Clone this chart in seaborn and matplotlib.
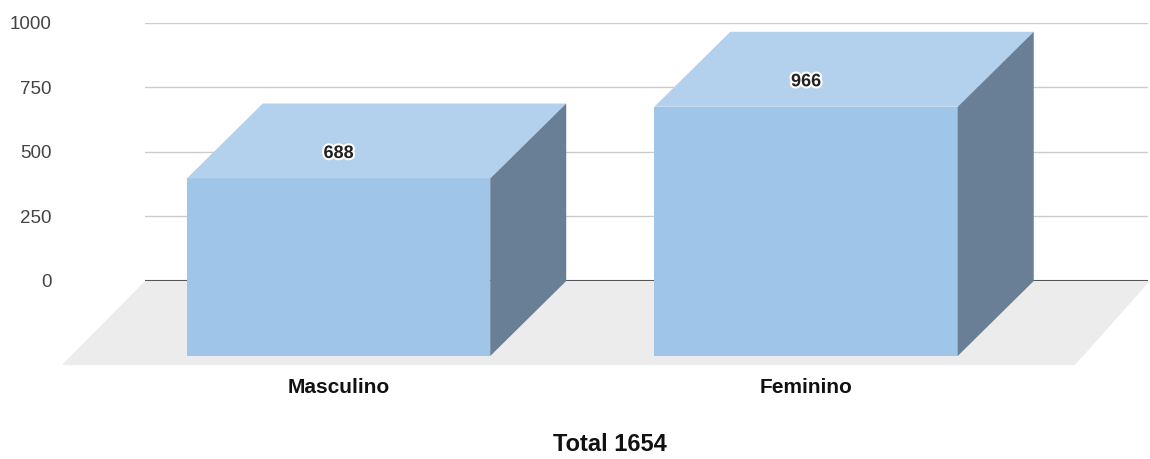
import matplotlib
matplotlib.use("Agg")
import matplotlib.pyplot as plt
import matplotlib.patheffects as pe
import pandas as pd
import seaborn as sns
from matplotlib.patches import Polygon


CATEGORIES = ["Masculino", "Feminino"]
VALUES = [688, 966]
Y_TICKS = [0, 250, 500, 750, 1000]

FRONT = "#9fc5e8"
TOP = "#b3d1ed"
SIDE = "#687f96"
FLOOR = "#ececec"

BAR_WIDTH = 0.649
DEPTH_X = 0.1626   # 3d depth shift, category units
DEPTH_Y = 290.7    # 3d depth shift, value units


def main():
    df = pd.DataFrame({"Sexo": CATEGORIES, "Total": VALUES})

    sns.set_theme(style="white")
    plt.rcParams["font.family"] = ["Liberation Sans", "DejaVu Sans"]

    fig = plt.figure(figsize=(11.5, 4.59), dpi=100)
    ax = fig.add_axes([0.1261, 0.3878, 0.8722, 0.5621])

    sns.barplot(data=df, x="Sexo", y="Total", width=BAR_WIDTH, color=FRONT,
                saturation=1, ax=ax, zorder=2)
    bars = list(ax.patches)

    ax.set_xlim(-0.5765, 1.569)
    ax.set_ylim(0, 1000)

    # floor of the 3d box
    x0, x1 = ax.get_xlim()
    floor = Polygon([(x0, 0), (1.573, 0), (1.4128, -325.6), (-0.754, -325.6)],
                    closed=True, facecolor=FLOOR, edgecolor="none",
                    zorder=0.4, clip_on=False)
    ax.add_patch(floor)

    # front faces shifted toward the viewer, plus top and side faces
    for bar, v in zip(bars, VALUES):
        left = bar.get_x()
        right = left + bar.get_width()
        bar.set_x(left - DEPTH_X)
        bar.set_y(-DEPTH_Y)
        bar.set_height(v)
        bar.set_edgecolor("none")
        bar.set_clip_on(False)
        top = Polygon([(left, v), (right, v), (right - DEPTH_X, v - DEPTH_Y),
                       (left - DEPTH_X, v - DEPTH_Y)], closed=True,
                      facecolor=TOP, edgecolor="none", zorder=2, clip_on=False)
        side = Polygon([(right, v), (right, 0), (right - DEPTH_X, -DEPTH_Y),
                        (right - DEPTH_X, v - DEPTH_Y)], closed=True,
                       facecolor=SIDE, edgecolor="none", zorder=2, clip_on=False)
        ax.add_patch(top)
        ax.add_patch(side)
        ax.annotate(f"{v}", xy=(left + bar.get_width() / 2 - DEPTH_X, v - DEPTH_Y),
                    xytext=(0, 18), textcoords="offset points",
                    ha="center", va="center", fontsize=13, fontweight="bold",
                    color="#222222", zorder=3, annotation_clip=False,
                    path_effects=[pe.withStroke(linewidth=3, foreground="white")])

    ax.set_axisbelow(True)
    ax.grid(axis="y", color="#cccccc", linewidth=1)
    ax.axhline(0, color="#555555", linewidth=1.5, zorder=1)

    ax.set_yticks(Y_TICKS)
    ax.tick_params(axis="y", length=0, pad=67, labelsize=13.5, labelcolor="#444444")
    ax.set_xticks([i - DEPTH_X for i in range(len(CATEGORIES))], CATEGORIES)
    ax.tick_params(axis="x", length=0, pad=70, labelsize=15, labelcolor="#111111")
    for lbl in ax.get_xticklabels():
        lbl.set_fontweight("bold")

    ax.set_ylabel("")
    ax.set_xlabel(f"Total {sum(VALUES)}", fontsize=17, fontweight="bold",
                  color="#111111")
    ax.xaxis.set_label_coords(0.4636, -0.635)
    ax.xaxis.label.set_verticalalignment("center")

    for spine in ax.spines.values():
        spine.set_visible(False)

    fig.savefig("out.png", dpi=100)
    plt.close(fig)


if __name__ == "__main__":
    main()
